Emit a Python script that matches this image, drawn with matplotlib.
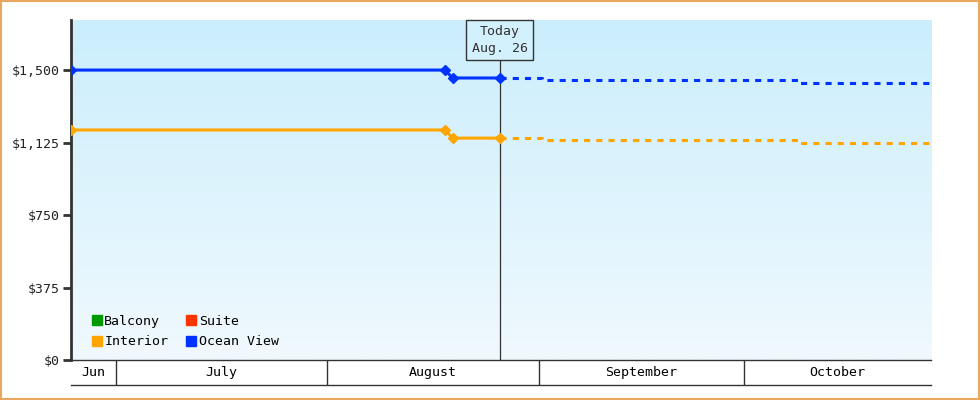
import matplotlib.pyplot as plt
import numpy as np
from matplotlib.patches import Rectangle

# day 0 = Jun 24
months = ["Jun", "July", "August", "September", "October"]
month_starts = [0, 6.6, 37.5, 68.6, 98.6]
x_end = 126
today = 62.8

blue_hist_x = [0, 54.8, 55.9, today]
blue_hist_y = [1500, 1500, 1459, 1459]
blue_fut_x = [today, 69, 69, 106.7, 106.7, x_end]
blue_fut_y = [1459, 1459, 1449, 1449, 1433, 1433]

orange_hist_x = [0, 54.8, 55.9, today]
orange_hist_y = [1190, 1190, 1148, 1148]
orange_fut_x = [today, 69, 69, 106.7, 106.7, x_end]
orange_fut_y = [1148, 1148, 1140, 1140, 1122, 1122]

yticks = [0, 375, 750, 1125, 1500]
ylabels = ["$0", "$375", "$750", "$1,125", "$1,500"]

legend_names = ["Balcony", "Suite", "Interior", "Ocean View"]
legend_colors = ["#009900", "#ff3300", "#ffa500", "#0033ff"]

plt.rcParams["font.family"] = "DejaVu Sans Mono"
fig = plt.figure(figsize=(9.8, 4), dpi=100)
fig.patches.append(Rectangle((0.001, 0.002), 0.998, 0.996, transform=fig.transFigure,
                             fill=False, edgecolor="#e8a860", linewidth=1.5))

ax = fig.add_axes([71 / 980, 40 / 400, 860 / 980, 340 / 400])
ax.set_xlim(0, x_end)
ax.set_ylim(0, 1759)
grad = np.linspace(0, 1, 256).reshape(-1, 1)
ax.imshow(grad, extent=[0, x_end, 0, 1759], aspect="auto", origin="lower",
          cmap=plt.matplotlib.colors.LinearSegmentedColormap.from_list("bg", ["#f0f9fe", "#cbeefc"]),
          zorder=0)

blue = "#0033ff"
orange = "#ffa500"
ax.plot(blue_hist_x, blue_hist_y, color=blue, lw=2.2, zorder=3)
ax.plot(blue_hist_x, blue_hist_y, "D", color=blue, ms=5, zorder=4)
ax.plot(blue_fut_x, blue_fut_y, color=blue, lw=2.2, ls=(0, (2, 2)), zorder=3)
ax.plot(orange_hist_x, orange_hist_y, color=orange, lw=2.2, zorder=3)
ax.plot(orange_hist_x, orange_hist_y, "D", color=orange, ms=5, zorder=4)
ax.plot(orange_fut_x, orange_fut_y, color=orange, lw=2.2, ls=(0, (2, 2)), zorder=3)

ax.axvline(today, color="#333333", lw=0.9, zorder=2)
ax.text(today, 1655, "Today\nAug. 26", ha="center", va="center", fontsize=9.5, color="#333333",
        linespacing=1.4,
        bbox=dict(boxstyle="square,pad=0.4", fc="#d2f1fc", ec="#333333", lw=1), zorder=5)

ax.set_yticks(yticks)
ax.set_yticklabels(ylabels, fontsize=9.5, color="#222222")
ax.tick_params(axis="y", length=6, width=2, color="#333333", pad=2)
ax.set_xticks([])
for s in ["top", "right"]:
    ax.spines[s].set_visible(False)
ax.spines["left"].set_linewidth(2)
ax.spines["left"].set_color("#333333")
ax.spines["bottom"].set_linewidth(1)
ax.spines["bottom"].set_color("#333333")

# legend
handles = [plt.Line2D([], [], marker="s", ls="", color=c, ms=7.5) for c in legend_colors]
ax.legend([handles[0], handles[2], handles[1], handles[3]],
          [legend_names[0], legend_names[2], legend_names[1], legend_names[3]],
          ncol=2, loc="lower left", bbox_to_anchor=(0.005, 0.0), frameon=False, fontsize=9.5,
          handletextpad=-0.2, columnspacing=1.0, labelspacing=0.55, handlelength=1.5)

# month band
mx = fig.add_axes([71 / 980, 15 / 400, 860 / 980, 25 / 400])
mx.set_xlim(0, x_end)
mx.set_ylim(0, 1)
mx.axis("off")
mx.axhline(0.02, color="#333333", lw=1, clip_on=False)
bounds = month_starts + [x_end]
for i, m in enumerate(months):
    if i > 0:
        mx.axvline(bounds[i], color="#333333", lw=1)
    mx.text((bounds[i] + bounds[i + 1]) / 2, 0.5, m, ha="center", va="center", fontsize=9.5)

fig.savefig("out.png", dpi=100)
